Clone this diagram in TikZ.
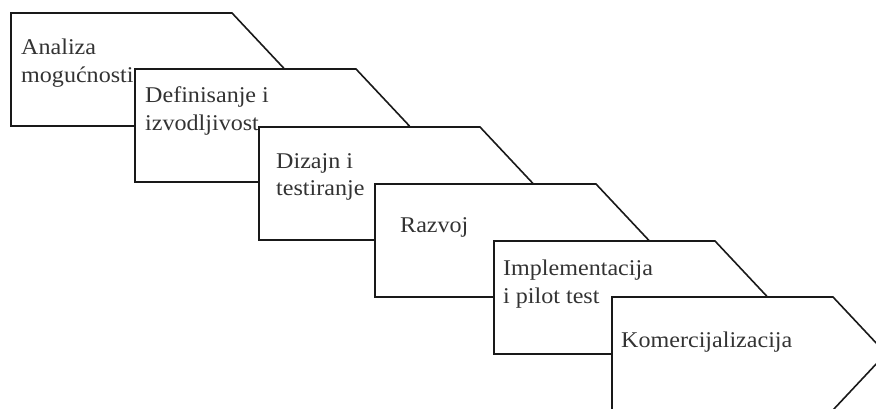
\documentclass[tikz,border=0pt]{standalone}
\usepackage{fontspec}
\setmainfont{Liberation Serif}[FakeStretch=1.07]
\begin{document}
\begin{tikzpicture}[x=1pt,y=-1pt,
  phase/.style={draw=black!90, line width=1.6pt, fill=white, line join=miter},
  phaselabel/.style={anchor=base west, inner sep=0pt, align=left, text=black!80,
    font=\fontsize{22.5}{28}\selectfont}]
\useasboundingbox (0,0) rectangle (876,409);
\begin{scope}
  \clip (0,0) rectangle (876,409);
  % one arrow-shaped phase per step: left x, top y, offset to the last
  % line's baseline, label
  \foreach \n/\l/\t/\dx/\dy/\txt in {
      1/11/13/10/70/{Analiza\\mogućnosti},
      2/135/69/10/62/{Definisanje i\\izvodljivost},
      3/259/127/17/69/{Dizajn i\\testiranje},
      4/375/184/25/49/{Razvoj},
      5/494/241/9/62/{Implementacija\\i pilot test},
      6/612/297/9/50/{Komercijalizacija}} {
    \draw[phase] (\l,\t) -- ++(221,0) -- ++(53,56.5) -- ++(-53,56.5)
      -- ++(-221,0) -- cycle;
    \node[phaselabel] (p\n) at (\l+\dx,\t+\dy) {\txt};
  }
\end{scope}
\end{tikzpicture}
\end{document}
